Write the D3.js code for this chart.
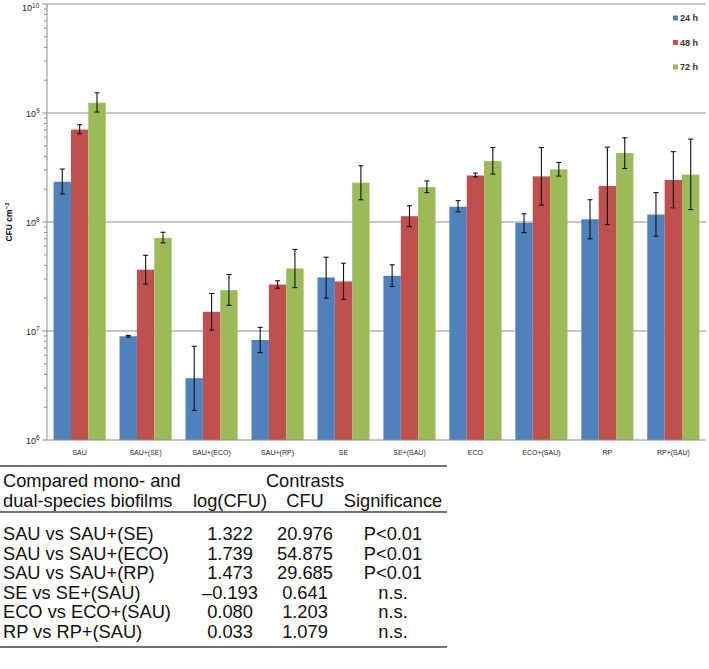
<!DOCTYPE html>
<html><head><meta charset="utf-8">
<script src="https://cdn.jsdelivr.net/npm/d3@7"></script>
<style>body{margin:0;background:#fff}svg{display:block}</style>
</head><body><svg id="c" width="709" height="669"></svg>
<script>
const categories = ["SAU","SAU+(SE)","SAU+(ECO)","SAU+(RP)","SE","SE+(SAU)","ECO","ECO+(SAU)","RP","RP+(SAU)"];
const seriesNames = ["24 h","48 h","72 h"];
const colors = ["#4F81BD","#C0504D","#9BBB59"];
const v24 = [2.34e8, 8.95e6, 3.69e6, 8.28e6, 3.1e7, 3.21e7, 1.38e8, 9.8e7, 1.06e8, 1.17e8];
const v48 = [7.05e8, 3.65e7, 1.5e7, 2.67e7, 2.85e7, 1.13e8, 2.67e8, 2.62e8, 2.14e8, 2.43e8];
const v72 = [1.24e9, 7.16e7, 2.37e7, 3.75e7, 2.29e8, 2.09e8, 3.62e8, 3.04e8, 4.29e8, 2.72e8];
const hi24 = [3.06e8, 9.1e6, 7.24e6, 1.08e7, 4.75e7, 4.05e7, 1.57e8, 1.19e8, 1.6e8, 1.86e8];
const lo24 = [1.81e8, 8.8e6, 1.87e6, 6.34e6, 2.0e7, 2.56e7, 1.24e8, 8.0e7, 7.0e7, 7.4e7];
const hi48 = [7.8e8, 4.95e7, 2.21e7, 2.89e7, 4.19e7, 1.41e8, 2.81e8, 4.82e8, 4.86e8, 4.42e8];
const lo48 = [6.44e8, 2.69e7, 1.02e7, 2.47e7, 1.95e7, 9.08e7, 2.59e8, 1.43e8, 9.46e7, 1.35e8];
const hi72 = [1.53e9, 8.05e7, 3.3e7, 5.6e7, 3.28e8, 2.38e8, 4.82e8, 3.52e8, 5.92e8, 5.76e8];
const lo72 = [1.02e9, 6.44e7, 1.72e7, 2.5e7, 1.6e8, 1.86e8, 2.75e8, 2.64e8, 3.1e8, 1.3e8];
const yTickExps = [6,7,8,9,10];

const tableHeader1 = ["Compared mono- and", "Contrasts"];
const tableHeader2 = ["dual-species biofilms", "log(CFU)", "CFU", "Significance"];
const tableRows = [
  ["SAU vs SAU+(SE)", "1.322", "20.976", "P<0.01"],
  ["SAU vs SAU+(ECO)", "1.739", "54.875", "P<0.01"],
  ["SAU vs SAU+(RP)", "1.473", "29.685", "P<0.01"],
  ["SE vs SE+(SAU)", "\u20130.193", "0.641", "n.s."],
  ["ECO vs ECO+(SAU)", "0.080", "1.203", "n.s."],
  ["RP vs RP+(SAU)", "0.033", "1.079", "n.s."]
];

const values = [v24, v48, v72];
const his = [hi24, hi48, hi72];
const los = [lo24, lo48, lo72];

const svg = d3.select("#c");
const L = 47, R = 706, T = 4, B = 440;
const x = d3.scaleBand().domain(categories).range([L, R]).paddingInner(0.21).paddingOuter(0.1);
const xs = d3.scaleBand().domain(d3.range(3)).range([0, x.bandwidth()]);
const y = d3.scaleLog().domain([1e6, 1e10]).range([B, T]);
const font = "Liberation Sans, Arial, sans-serif";

// gridlines
svg.append("g").selectAll("line").data(yTickExps.slice(1)).join("line")
  .attr("x1", L).attr("x2", R).attr("y1", d => y(Math.pow(10,d))).attr("y2", d => y(Math.pow(10,d)))
  .attr("stroke", "#8c8c8c").attr("stroke-width", 1);

// bars
const grp = svg.append("g");
categories.forEach((c, i) => {
  for (let s = 0; s < 3; s++) {
    const bx = x(c) + xs(s);
    grp.append("rect").attr("x", bx).attr("y", y(values[s][i]))
      .attr("width", xs.bandwidth()).attr("height", B - y(values[s][i])).attr("fill", colors[s]);
  }
});
// error bars
const eg = svg.append("g").attr("stroke", "#111").attr("stroke-width", 1.1);
categories.forEach((c, i) => {
  for (let s = 0; s < 3; s++) {
    const cx = x(c) + xs(s) + xs.bandwidth() / 2;
    const y1 = y(his[s][i]), y2 = y(los[s][i]);
    eg.append("line").attr("x1", cx).attr("x2", cx).attr("y1", y1).attr("y2", y2);
    eg.append("line").attr("x1", cx - 2.5).attr("x2", cx + 2.5).attr("y1", y1).attr("y2", y1);
    eg.append("line").attr("x1", cx - 2.5).attr("x2", cx + 2.5).attr("y1", y2).attr("y2", y2);
  }
});

// axes lines
svg.append("line").attr("x1", L).attr("x2", L).attr("y1", T).attr("y2", B).attr("stroke", "#8c8c8c");
svg.append("line").attr("x1", L).attr("x2", R).attr("y1", B).attr("y2", B).attr("stroke", "#8c8c8c");

// y ticks
const minor = [];
for (let e = 6; e < 10; e++) for (let m = 2; m <= 9; m++) minor.push(m * Math.pow(10, e));
svg.append("g").selectAll("line").data(minor).join("line")
  .attr("x1", L - 3).attr("x2", L).attr("y1", d => y(d)).attr("y2", d => y(d)).attr("stroke", "#8c8c8c");
svg.append("g").selectAll("line").data(yTickExps).join("line")
  .attr("x1", L - 5).attr("x2", L).attr("y1", d => y(Math.pow(10,d))).attr("y2", d => y(Math.pow(10,d))).attr("stroke", "#8c8c8c");
const yl = svg.append("g").attr("font-family", font).attr("fill", "#222");
yTickExps.forEach(e => {
  const t = yl.append("text").attr("x", e === 10 ? 22 : 26)
    .attr("y", y(Math.pow(10,e)) + (e === 10 ? 7 : 3.5)).attr("font-size", 9);
  t.append("tspan").text("10");
  t.append("tspan").attr("dy", -3.5).attr("font-size", 6.5).text(e);
});

// y title
const yt = svg.append("text").attr("transform", "translate(12,222) rotate(-90)")
  .attr("text-anchor", "middle").attr("font-family", font).attr("font-size", 8.5).attr("font-weight", "bold").attr("fill", "#111");
yt.append("tspan").text("CFU cm");
yt.append("tspan").attr("dy", -3).attr("font-size", 6).text("\u22122");

// x labels
svg.append("g").selectAll("text").data(categories).join("text")
  .attr("x", d => x(d) + x.bandwidth() / 2).attr("y", 455).attr("text-anchor", "middle")
  .attr("font-family", font).attr("font-size", 7).attr("fill", "#222").text(d => d);

// legend
seriesNames.forEach((n, i) => {
  const ly = 18 + i * 24.5;
  svg.append("rect").attr("x", 673).attr("y", ly - 2.5).attr("width", 5).attr("height", 5).attr("fill", colors[i]);
  svg.append("text").attr("x", 680).attr("y", ly + 3).attr("font-family", font).attr("font-size", 9)
    .attr("font-weight", "bold").attr("fill", "#333").text(n);
});

// table
const TW = 447, sx = 1.045;
[466, 512, 647].forEach(ly => svg.append("line").attr("x1", 0).attr("x2", TW).attr("y1", ly).attr("y2", ly)
  .attr("stroke", "#444").attr("stroke-width", 1.5));
const tg = svg.append("g").attr("transform", `scale(${sx},1)`).attr("font-family", font).attr("font-size", 17.5).attr("fill", "#111");
const colX = [3, 230, 305, 393];
tg.append("text").attr("x", colX[0] / sx).attr("y", 487).text(tableHeader1[0]);
tg.append("text").attr("x", colX[2] / sx).attr("y", 487).attr("text-anchor", "middle").text(tableHeader1[1]);
tableHeader2.forEach((h, j) => tg.append("text").attr("x", colX[j] / sx).attr("y", 507)
  .attr("text-anchor", j === 0 ? "start" : "middle").text(h));
tableRows.forEach((r, i) => {
  r.forEach((v, j) => tg.append("text").attr("x", colX[j] / sx).attr("y", 540 + i * 19.6)
    .attr("text-anchor", j === 0 ? "start" : "middle").text(v));
});
</script></body></html>
